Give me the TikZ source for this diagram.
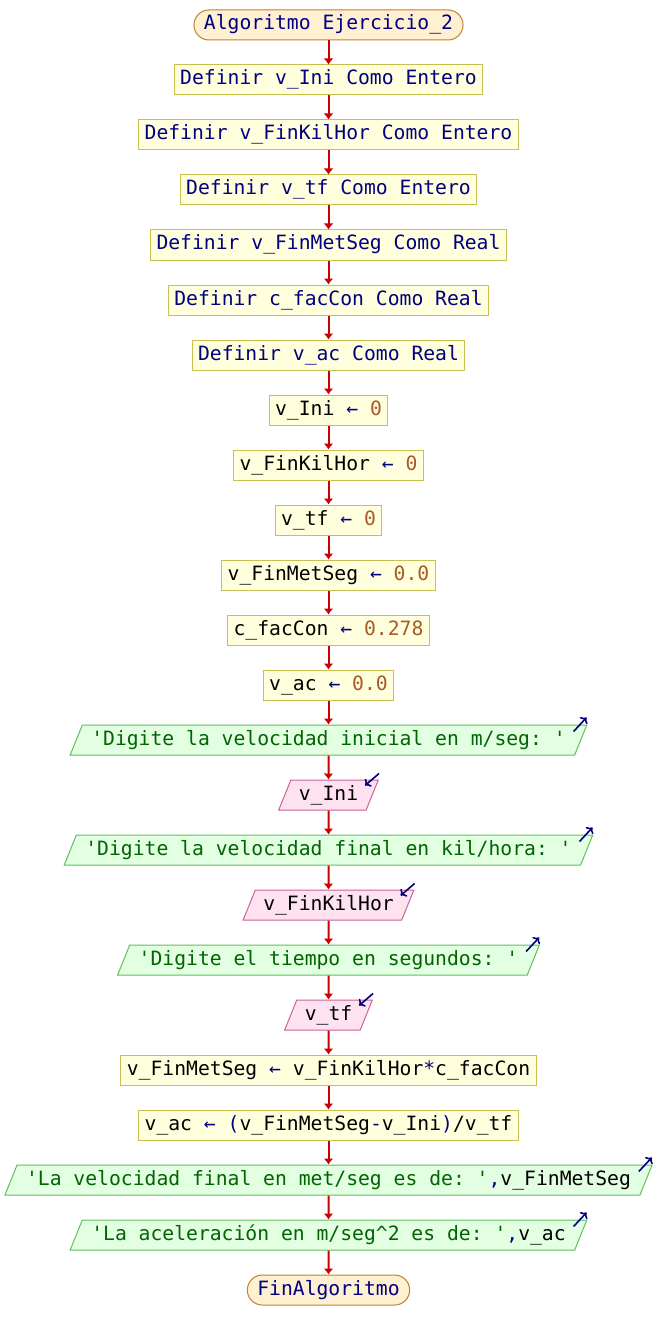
\documentclass[tikz,border=0pt]{standalone}
\usepackage{fontspec}
\setmonofont{DejaVu Sans Mono}
\usetikzlibrary{shapes.geometric,arrows.meta}
\definecolor{azul}{HTML}{000080}
\definecolor{verde}{HTML}{006400}
\definecolor{cafe}{HTML}{A85A28}
\definecolor{rojo}{HTML}{CC0000}
\definecolor{fproc}{HTML}{FFFFDD}
\definecolor{bproc}{HTML}{C8C050}
\definecolor{fterm}{HTML}{FFF0D2}
\definecolor{bterm}{HTML}{C08030}
\definecolor{fesc}{HTML}{E2FFE2}
\definecolor{besc}{HTML}{60C060}
\definecolor{flee}{HTML}{FFE2F0}
\definecolor{blee}{HTML}{C86496}
\newcommand{\asig}{\ {\color{azul}←}\ }
\newcommand{\num}[1]{{\color{cafe}#1}}
\begin{document}
\begin{tikzpicture}[x=1pt, y=-1pt,
  every node/.style={font=\ttfamily\fontsize{19.7}{24}\selectfont, text height=14pt, text depth=4pt, inner ysep=6pt, line width=1pt},
  proc/.style={draw=bproc, fill=fproc, inner xsep=6pt},
  term/.style={draw=bterm, fill=fterm, rounded corners=15pt, inner xsep=10pt, text=azul},
  esc/.style={trapezium, trapezium left angle=68, trapezium right angle=112, draw=besc, fill=fesc, inner xsep=9pt, text=verde},
  lee/.style={trapezium, trapezium left angle=68, trapezium right angle=112, draw=blee, fill=flee, inner xsep=8pt},
  flecha/.style={-{Latex[length=6pt,width=10pt]}, draw=rojo, line width=2pt},
  marca/.style={-{To[length=5pt,width=10pt]}, draw=azul, line width=1.6pt}]
\useasboundingbox (0,0) rectangle (656,1340);
\node[term] (ini) at (328.5,25) {Algoritmo Ejercicio\_2};
\node[proc, text=azul] (d1) at (328.5,80) {Definir v\_Ini Como Entero};
\node[proc, text=azul] (d2) at (328.5,135) {Definir v\_FinKilHor Como Entero};
\node[proc, text=azul] (d3) at (328.5,190) {Definir v\_tf Como Entero};
\node[proc, text=azul] (d4) at (328.5,245) {Definir v\_FinMetSeg Como Real};
\node[proc, text=azul] (d5) at (328.5,300) {Definir c\_facCon Como Real};
\node[proc, text=azul] (d6) at (328.5,355) {Definir v\_ac Como Real};
\node[proc] (a1) at (328.5,410) {v\_Ini\asig\num{0}};
\node[proc] (a2) at (328.5,465) {v\_FinKilHor\asig\num{0}};
\node[proc] (a3) at (328.5,520) {v\_tf\asig\num{0}};
\node[proc] (a4) at (328.5,575) {v\_FinMetSeg\asig\num{0.0}};
\node[proc] (a5) at (328.5,630) {c\_facCon\asig\num{0.278}};
\node[proc] (a6) at (328.5,685) {v\_ac\asig\num{0.0}};
\node[esc] (o1) at (328.5,740) {'Digite la velocidad inicial en m/seg: '};
\node[lee] (i1) at (328.5,795) {v\_Ini};
\node[esc] (o2) at (328.5,850) {'Digite la velocidad final en kil/hora: '};
\node[lee] (i2) at (328.5,905) {v\_FinKilHor};
\node[esc] (o3) at (328.5,960) {'Digite el tiempo en segundos: '};
\node[lee] (i3) at (328.5,1015) {v\_tf};
\node[proc] (a7) at (328.5,1070) {v\_FinMetSeg\asig v\_FinKilHor{\color{azul}*}c\_facCon};
\node[proc] (a8) at (328.5,1125) {v\_ac\asig{\color{azul}(}v\_FinMetSeg{\color{azul}-}v\_Ini{\color{azul})}/v\_tf};
\node[esc] (o4) at (328.5,1180) {'La velocidad final en met/seg es de: '{\color{azul},}{\color{black}v\_FinMetSeg}};
\node[esc] (o5) at (328.5,1235) {'La aceleración en m/seg\textasciicircum 2 es de: '{\color{azul},}{\color{black}v\_ac}};
\node[term] (fin) at (328.5,1290) {FinAlgoritmo};
\draw[flecha] (ini) -- (d1);
\draw[flecha] (d1) -- (d2);
\draw[flecha] (d2) -- (d3);
\draw[flecha] (d3) -- (d4);
\draw[flecha] (d4) -- (d5);
\draw[flecha] (d5) -- (d6);
\draw[flecha] (d6) -- (a1);
\draw[flecha] (a1) -- (a2);
\draw[flecha] (a2) -- (a3);
\draw[flecha] (a3) -- (a4);
\draw[flecha] (a4) -- (a5);
\draw[flecha] (a5) -- (a6);
\draw[flecha] (a6) -- (o1);
\draw[flecha] (o1) -- (i1);
\draw[flecha] (i1) -- (o2);
\draw[flecha] (o2) -- (i2);
\draw[flecha] (i2) -- (o3);
\draw[flecha] (o3) -- (i3);
\draw[flecha] (i3) -- (a7);
\draw[flecha] (a7) -- (a8);
\draw[flecha] (a8) -- (o4);
\draw[flecha] (o4) -- (o5);
\draw[flecha] (o5) -- (fin);
\draw[marca] ([shift={(-14,7)}]o1.top right corner) -- ++(13,-14);
\draw[marca] ([shift={(-14,7)}]o2.top right corner) -- ++(13,-14);
\draw[marca] ([shift={(-14,7)}]o3.top right corner) -- ++(13,-14);
\draw[marca] ([shift={(-14,7)}]o4.top right corner) -- ++(13,-14);
\draw[marca] ([shift={(-14,7)}]o5.top right corner) -- ++(13,-14);
\draw[marca] ([shift={(0,-6)}]i1.top right corner) -- ++(-14,12);
\draw[marca] ([shift={(0,-6)}]i2.top right corner) -- ++(-14,12);
\draw[marca] ([shift={(0,-6)}]i3.top right corner) -- ++(-14,12);
\end{tikzpicture}
\end{document}
